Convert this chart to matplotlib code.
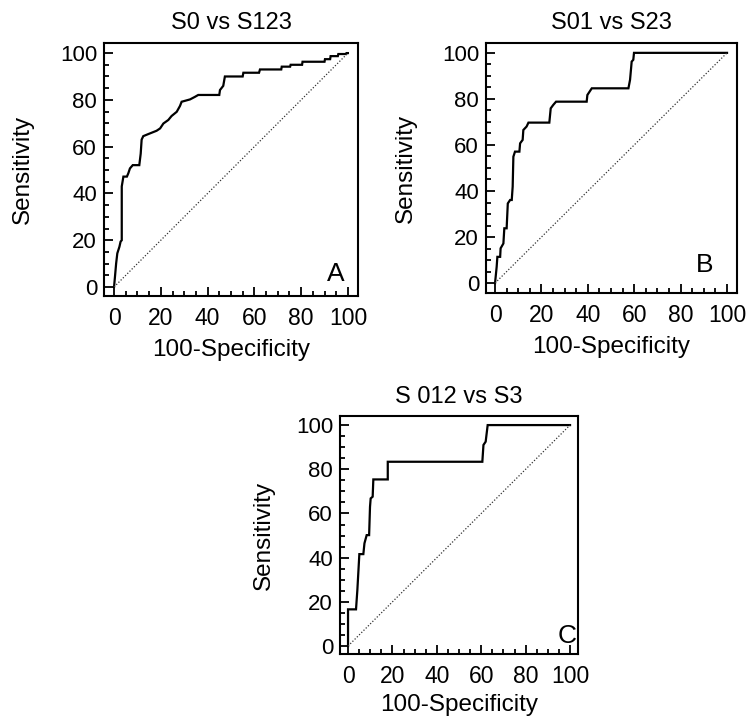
import matplotlib
matplotlib.use("Agg")
import matplotlib.pyplot as plt
from matplotlib.ticker import MultipleLocator

plt.rcParams['font.family'] = ['Liberation Sans', 'DejaVu Sans']

# ROC curves: 100-Specificity (x) vs Sensitivity (y)
titles = ["S0 vs S123", "S01 vs S23", "S 012 vs S3"]
letters = ["A", "B", "C"]

a_x = [0, 0.4, 0.9, 1.4, 2.3, 2.8, 3.3, 3.3, 4.0, 5.5, 6.1, 6.8, 8.0, 10.8, 11.4, 11.8,
       12.5, 14.7, 18.2, 19.7, 21.1, 23.2, 24.6, 26.8, 28.2, 28.9, 32.5, 34.6, 36.0,
       45.0, 45.3, 46.7, 47.4, 55.0, 55.3, 62.0, 62.4, 71.5, 71.7, 75.3, 75.5, 80.4,
       80.6, 90.0, 90.2, 92.4, 92.6, 95.7, 95.9, 99.2, 99.4, 100]
a_y = [0, 4.4, 10.1, 14.4, 17.2, 19.4, 20.0, 43.0, 47.2, 47.2, 48.6, 50.7, 52.1, 52.1, 57.0, 63.0,
       64.5, 65.4, 66.8, 67.8, 69.9, 71.4, 73.1, 74.9, 77.4, 79.2, 80.2, 81.3, 82.1,
       82.1, 84.2, 86.0, 90.0, 90.0, 91.6, 91.6, 93.0, 93.0, 94.2, 94.2, 95.0, 95.0,
       96.3, 96.3, 97.4, 97.4, 98.7, 98.7, 99.6, 99.6, 100, 100]

b_x = [0, 0.7, 1.0, 2.2, 2.4, 3.6, 4.0, 5.0, 5.5, 6.5, 7.2, 7.6, 7.9, 8.6, 10.5, 10.8,
       11.9, 12.2, 13.6, 14.4, 23.4, 24.0, 25.1, 26.3, 39.5, 39.8, 41.7, 57.5, 58.2,
       58.9, 59.6, 59.9, 100]
b_y = [0, 7.1, 11.4, 11.4, 15.1, 17.2, 23.8, 23.8, 34.6, 36.1, 36.1, 41.9, 54.9, 57.1, 57.1, 60.7,
       62.2, 66.5, 68.0, 69.7, 69.7, 75.9, 77.4, 78.8, 78.8, 81.7, 84.6, 84.6, 88.3,
       96.2, 97.0, 100, 100]

c_x = [0, 0, 3.6, 4.2, 5.1, 6.9, 7.4, 8.4, 9.5, 9.9, 10.2, 11.1, 11.4, 17.9, 17.9,
       60.5, 61.0, 62.0, 62.9, 100]
c_y = [0, 16.6, 16.6, 25.3, 41.6, 41.6, 46.5, 50.2, 50.2, 63.0, 66.8, 67.6, 75.4, 75.4, 83.4,
       83.4, 91.0, 92.5, 100, 100]

curves = [(a_x, a_y), (b_x, b_y), (c_x, c_y)]

fig = plt.figure(figsize=(7.47, 7.22), dpi=100)
rects = [[0.1392, 0.590, 0.340, 0.3504],
         [0.6506, 0.5942, 0.336, 0.3463],
         [0.4552, 0.0942, 0.3186, 0.3296]]
xlims = [(-4.3, 104.3), (-3.9, 104.3), (-3.6, 103.6)]
ylims = [(-3.85, 104.3), (-4.3, 104.3), (-3.6, 104.1)]
letter_pos = [(95, 5.5), (90.5, 7.8), (98.5, 4.5)]

for i in range(3):
    ax = fig.add_axes(rects[i])
    x, y = curves[i]
    ax.plot(x, y, color='black', lw=1.6, solid_joinstyle='miter')
    ax.plot([0, 100], [0, 100], color='#333333', lw=0.9, ls=(0, (1, 1.5)))
    ax.set_xlim(*xlims[i])
    ax.set_ylim(*ylims[i])
    ax.xaxis.set_major_locator(MultipleLocator(20))
    ax.yaxis.set_major_locator(MultipleLocator(20))
    ax.xaxis.set_minor_locator(MultipleLocator(5))
    ax.yaxis.set_minor_locator(MultipleLocator(5))
    ax.tick_params(which='both', direction='in', width=1.3, color='black')
    ax.tick_params(which='major', length=6.5)
    ax.tick_params(axis='x', which='major', pad=8, labelsize=16.5)
    ax.tick_params(axis='y', which='major', pad=5, labelsize=16)
    ax.tick_params(which='minor', length=3.5)
    for s in ax.spines.values():
        s.set_linewidth(1.5)
    ax.set_title(titles[i], fontsize=17, y=1.08, va='center', pad=0)
    ax.set_xlabel("100-Specificity", fontsize=17.5)
    ax.set_ylabel("Sensitivity", fontsize=17.5)
    ax.xaxis.set_label_coords(0.5, -0.215)
    ax.xaxis.label.set_va('center')
    ax.yaxis.set_label_coords(-0.32, 0.5)
    ax.yaxis.label.set_va('center')
    lx, ly = letter_pos[i]
    ax.text(lx, ly, letters[i], fontsize=19, ha='center', va='center')

fig.savefig("out.png", dpi=100)
